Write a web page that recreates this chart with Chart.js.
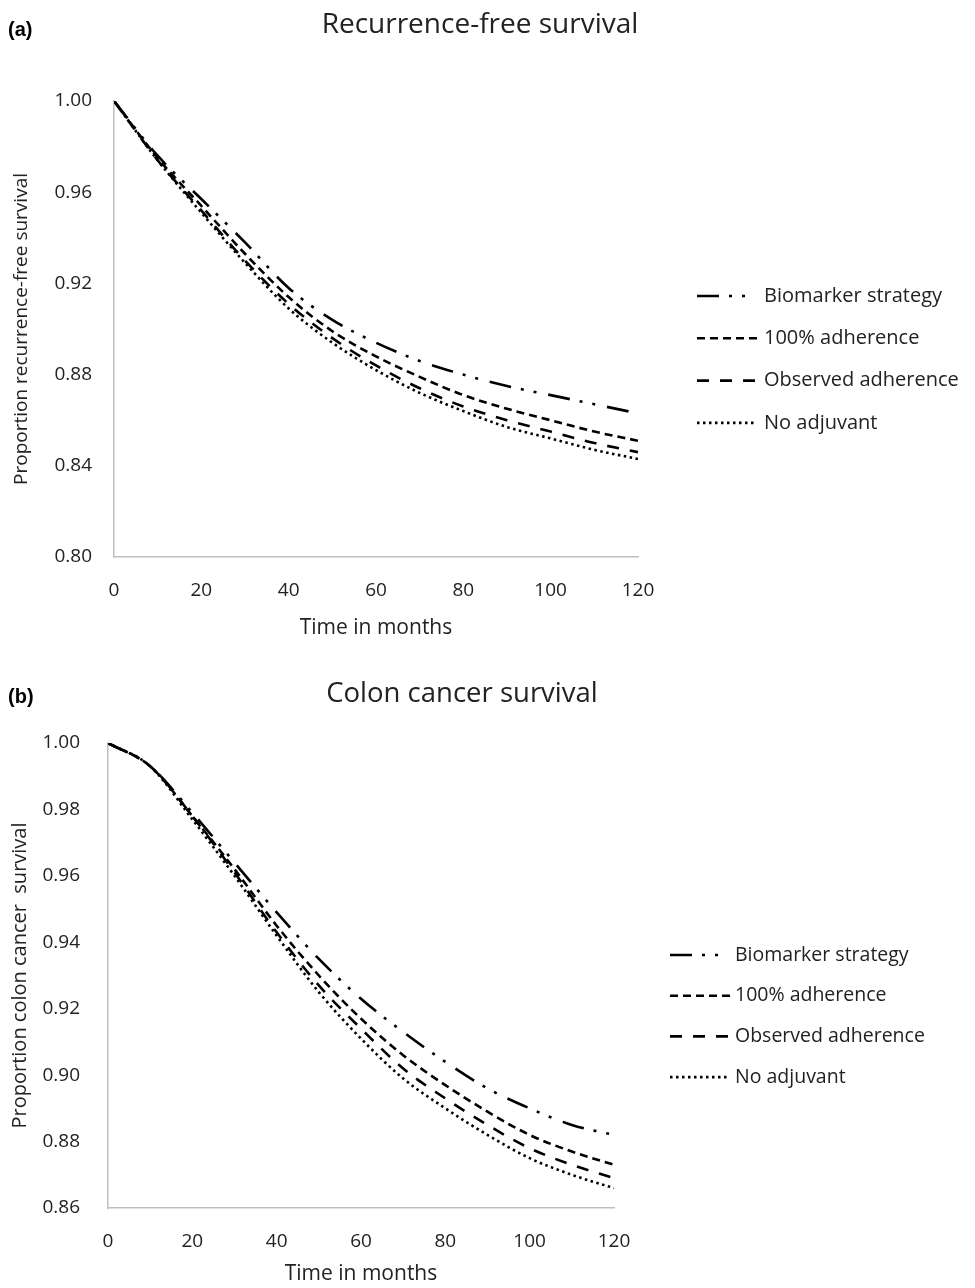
<!DOCTYPE html>
<html><head><meta charset="utf-8">
<script src="https://cdn.jsdelivr.net/npm/chart.js@4.4.1/dist/chart.umd.min.js"></script>
<style>
html,body{margin:0;padding:0;background:#fff;}
#wrapA{position:absolute;left:0;top:0;width:975px;height:650px;}
#wrapB{position:absolute;left:0;top:650px;width:975px;height:638px;}
</style></head><body>
<div id="wrapA"><canvas id="chartA" width="975" height="650"></canvas></div>
<div id="wrapB"><canvas id="chartB" width="975" height="638"></canvas></div>
<script>
// ---- data ----
const months = [0, 10, 20, 30, 40, 50, 60, 70, 80, 90, 100, 110, 120];
const seriesNames = ['Biomarker strategy', '100% adherence', 'Observed adherence', 'No adjuvant'];

const rfsBiomarker = [1.000, 0.976, 0.957, 0.938, 0.918, 0.904, 0.894, 0.886, 0.880, 0.875, 0.871, 0.867, 0.863];
const rfsFull      = [1.000, 0.975, 0.954, 0.933, 0.914, 0.899, 0.888, 0.879, 0.871, 0.865, 0.860, 0.855, 0.851];
const rfsObserved  = [1.000, 0.974, 0.952, 0.930, 0.911, 0.896, 0.884, 0.874, 0.866, 0.860, 0.855, 0.850, 0.846];
const rfsNone      = [1.000, 0.974, 0.951, 0.929, 0.909, 0.894, 0.882, 0.872, 0.864, 0.857, 0.852, 0.847, 0.843];

const ccsBiomarker = [1.000, 0.993, 0.979, 0.964, 0.949, 0.935, 0.923, 0.913, 0.904, 0.896, 0.890, 0.885, 0.882];
const ccsFull      = [1.000, 0.993, 0.978, 0.962, 0.945, 0.930, 0.917, 0.906, 0.897, 0.889, 0.882, 0.877, 0.873];
const ccsObserved  = [1.000, 0.993, 0.978, 0.961, 0.943, 0.927, 0.914, 0.902, 0.893, 0.885, 0.878, 0.873, 0.869];
const ccsNone      = [1.000, 0.993, 0.977, 0.960, 0.942, 0.925, 0.911, 0.899, 0.890, 0.882, 0.875, 0.870, 0.866];

const xTicks  = [0, 20, 40, 60, 80, 100, 120];
const yTicksA = [0.80, 0.84, 0.88, 0.92, 0.96, 1.00];
const yTicksB = [0.86, 0.88, 0.90, 0.92, 0.94, 0.96, 0.98, 1.00];

// ---- styles ----
const FONT = '"Open Sans", sans-serif';
const dashes = [[22, 10, 3, 10, 3, 12], [8, 5], [12, 11], [2.5, 3.5]];

function makeDatasets(arrs) {
  return arrs.map((arr, i) => ({
    label: seriesNames[i],
    data: months.map((m, k) => ({x: m, y: arr[k]})),
    borderColor: '#000',
    borderWidth: 2.6,
    borderDash: dashes[i],
    borderCapStyle: 'butt',
    pointRadius: 0,
    fill: false,
    tension: 0.4,
    cubicInterpolationMode: 'monotone'
  }));
}

const annot = {
  id: 'annot',
  afterDraw(chart, args, o) {
    const ctx = chart.ctx;
    ctx.save();
    ctx.fillStyle = '#000';
    ctx.textBaseline = 'middle';
    ctx.textAlign = 'left';
    ctx.font = 'bold 20px "Liberation Sans", Arial, sans-serif';
    ctx.fillText(o.panel, o.panelX, o.panelY);
    ctx.font = '400 ' + o.titleSize + 'px ' + FONT;
    ctx.fillStyle = '#222';
    ctx.textAlign = 'center';
    ctx.fillText(o.title, o.titleX, o.titleY);
    chart.data.datasets.forEach((ds, i) => {
      const y = o.legY + i * o.legStep;
      ctx.beginPath();
      ctx.setLineDash(ds.borderDash);
      ctx.lineWidth = ds.borderWidth;
      ctx.strokeStyle = '#000';
      ctx.lineCap = 'butt';
      ctx.moveTo(o.legX, y);
      ctx.lineTo(o.legX + o.legW, y);
      ctx.stroke();
      ctx.setLineDash([]);
      ctx.font = o.legSize + 'px ' + FONT;
      ctx.fillStyle = '#222';
      ctx.textAlign = 'left';
      ctx.fillText(ds.label, o.legX + o.legW + o.legGap, y);
    });
    ctx.restore();
  }
};

function makeChart(id, arrs, yMin, yMax, yTicks, yTitle, geo, ann) {
  return new Chart(document.getElementById(id), {
    type: 'line',
    data: {datasets: makeDatasets(arrs)},
    plugins: [annot],
    options: {
      responsive: false,
      animation: false,
      devicePixelRatio: 1,
      layout: {padding: {top: geo.top, right: geo.right, left: 0, bottom: 0}},
      plugins: {legend: {display: false}, tooltip: {enabled: false}, title: {display: false}, annot: ann},
      scales: {
        x: {
          type: 'linear', min: 0, max: 120,
          afterFit: s => { s.height = geo.xh; },
          afterBuildTicks: s => { s.ticks = xTicks.map(v => ({value: v})); },
          grid: {display: false, drawTicks: false},
          border: {color: '#bfbfbf', width: 1.5},
          ticks: {color: '#222', font: {family: FONT, size: 19}, padding: geo.xpad, maxRotation: 0},
          title: {display: true, text: 'Time in months', color: '#222', font: {family: FONT, size: 21}, padding: {top: 0, bottom: geo.xtpad}}
        },
        y: {
          min: yMin, max: yMax,
          afterFit: s => { s.width = geo.left; },
          afterBuildTicks: s => { s.ticks = yTicks.map(v => ({value: v})); },
          grid: {display: false, drawTicks: false},
          border: {color: '#bfbfbf', width: 1.5},
          ticks: {color: '#222', font: {family: FONT, size: 19}, padding: geo.ypad, callback: v => Number(v).toFixed(2)},
          title: {display: true, text: yTitle, color: '#222', font: {family: FONT, size: geo.ytsize}, padding: {top: geo.ytpad, bottom: 0}}
        }
      }
    }
  });
}

makeChart('chartA', [rfsBiomarker, rfsFull, rfsObserved, rfsNone], 0.80, 1.00, yTicksA,
  'Proportion recurrence-free survival',
  {top: 101, right: 337, left: 114, xh: 93, xpad: 22, xtpad: 9, ypad: 22, ytpad: 10, ytsize: 19},
  {panel: '(a)', panelX: 8, panelY: 30, title: 'Recurrence-free survival', titleX: 480, titleY: 25, titleSize: 28,
   legX: 697, legY: 296, legStep: 42.3, legW: 60, legGap: 7, legSize: 20});

makeChart('chartB', [ccsBiomarker, ccsFull, ccsObserved, ccsNone], 0.86, 1.00, yTicksB,
  'Proportion colon cancer  survival',
  {top: 93, right: 361, left: 108, xh: 80, xpad: 22, xtpad: 1, ypad: 28, ytpad: 8, ytsize: 20},
  {panel: '(b)', panelX: 8, panelY: 47, title: 'Colon cancer survival', titleX: 462, titleY: 44, titleSize: 27.5,
   legX: 670, legY: 305, legStep: 40.7, legW: 60, legGap: 5, legSize: 19.5});
</script>
</body></html>
